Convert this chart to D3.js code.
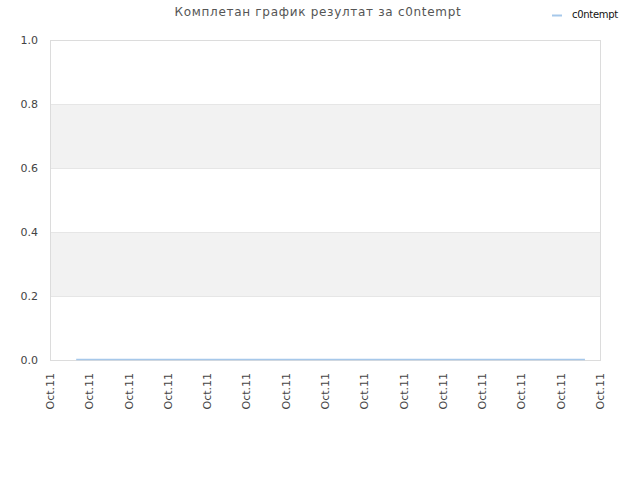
<!DOCTYPE html>
<html lang="sr">
<head>
<meta charset="UTF-8">
<title>Комплетан график</title>
<script src="https://cdn.jsdelivr.net/npm/d3@7/dist/d3.min.js"></script>
<style>
  body { margin: 0; background: #fff; }
  text { font-family: "DejaVu Sans", sans-serif; }
</style>
</head>
<body>
<script>
// data
const seriesName = "c0ntempt";
const times = ["2011-10-11T00:40", "2011-10-11T04:00", "2011-10-11T08:00", "2011-10-11T13:37"];
const values = [0, 0, 0, 0];
const yTicks = [0, 0.2, 0.4, 0.6, 0.8, 1.0];
const xStart = "2011-10-11T00:00", xEnd = "2011-10-11T14:00";

const W = 640, H = 480;
const m = {left: 50, right: 40, top: 40, bottom: 120};
const pw = W - m.left - m.right, ph = H - m.top - m.bottom;

const parse = d3.timeParse("%Y-%m-%dT%H:%M");
const pts = times.map((t, i) => ({t: parse(t), v: values[i]}));

const x = d3.scaleTime().domain([parse(xStart), parse(xEnd)]).range([0, pw]);
const y = d3.scaleLinear().domain([0, 1]).range([ph, 0]);

const svg = d3.select("body").append("svg").attr("width", W).attr("height", H);
const g = svg.append("g").attr("transform", `translate(${m.left},${m.top})`);

// alternating bands
const bands = d3.pairs(yTicks).filter((p, i) => i % 2 === 1);
g.selectAll("rect.band").data(bands).enter().append("rect")
  .attr("x", 0).attr("width", pw)
  .attr("y", d => y(d[1])).attr("height", d => y(d[0]) - y(d[1]))
  .attr("fill", "#f2f2f2");

// gridlines
g.selectAll("line.grid").data(yTicks).enter().append("line")
  .attr("x1", 0).attr("x2", pw)
  .attr("y1", d => y(d) + 0.5).attr("y2", d => y(d) + 0.5)
  .attr("stroke", "#e6e6e6");

// frame
g.append("rect").attr("x", 0.5).attr("y", 0.5).attr("width", pw).attr("height", ph)
  .attr("fill", "none").attr("stroke", "#dcdcdc");

// y axis labels
g.selectAll("text.yl").data(yTicks).enter().append("text")
  .attr("x", -12).attr("y", d => y(d)).attr("dy", "0.35em")
  .attr("text-anchor", "end").attr("font-size", 11).attr("fill", "#444")
  .text(d3.format(".1f"));

// x axis labels
const xTicks = x.ticks(d3.timeHour.every(1));
g.selectAll("text.xl").data(xTicks).enter().append("text")
  .attr("transform", d => `translate(${x(d) + 4},${ph + 13}) rotate(-90)`)
  .attr("text-anchor", "end").attr("font-size", 11).attr("fill", "#444")
  .text("Oct.11");

// line
const line = d3.line().x(d => x(d.t)).y(d => y(d.v) - 0.5);
g.append("path").datum(pts).attr("d", line)
  .attr("fill", "none").attr("stroke", "#a6c8ea").attr("stroke-width", 1.5);

// title
svg.append("text").attr("x", 318).attr("y", 16).attr("text-anchor", "middle")
  .attr("font-size", 12).attr("fill", "#555").attr("letter-spacing", 0.7)
  .text("Комплетан график резултат за c0ntempt");

// legend
svg.append("line").attr("x1", 552).attr("x2", 562).attr("y1", 15.5).attr("y2", 15.5)
  .attr("stroke", "#a6c8ea").attr("stroke-width", 2);
svg.append("text").attr("x", 572).attr("y", 18).attr("font-size", 10).attr("fill", "#111")
  .attr("letter-spacing", -0.3)
  .text(seriesName);
</script>
</body>
</html>
